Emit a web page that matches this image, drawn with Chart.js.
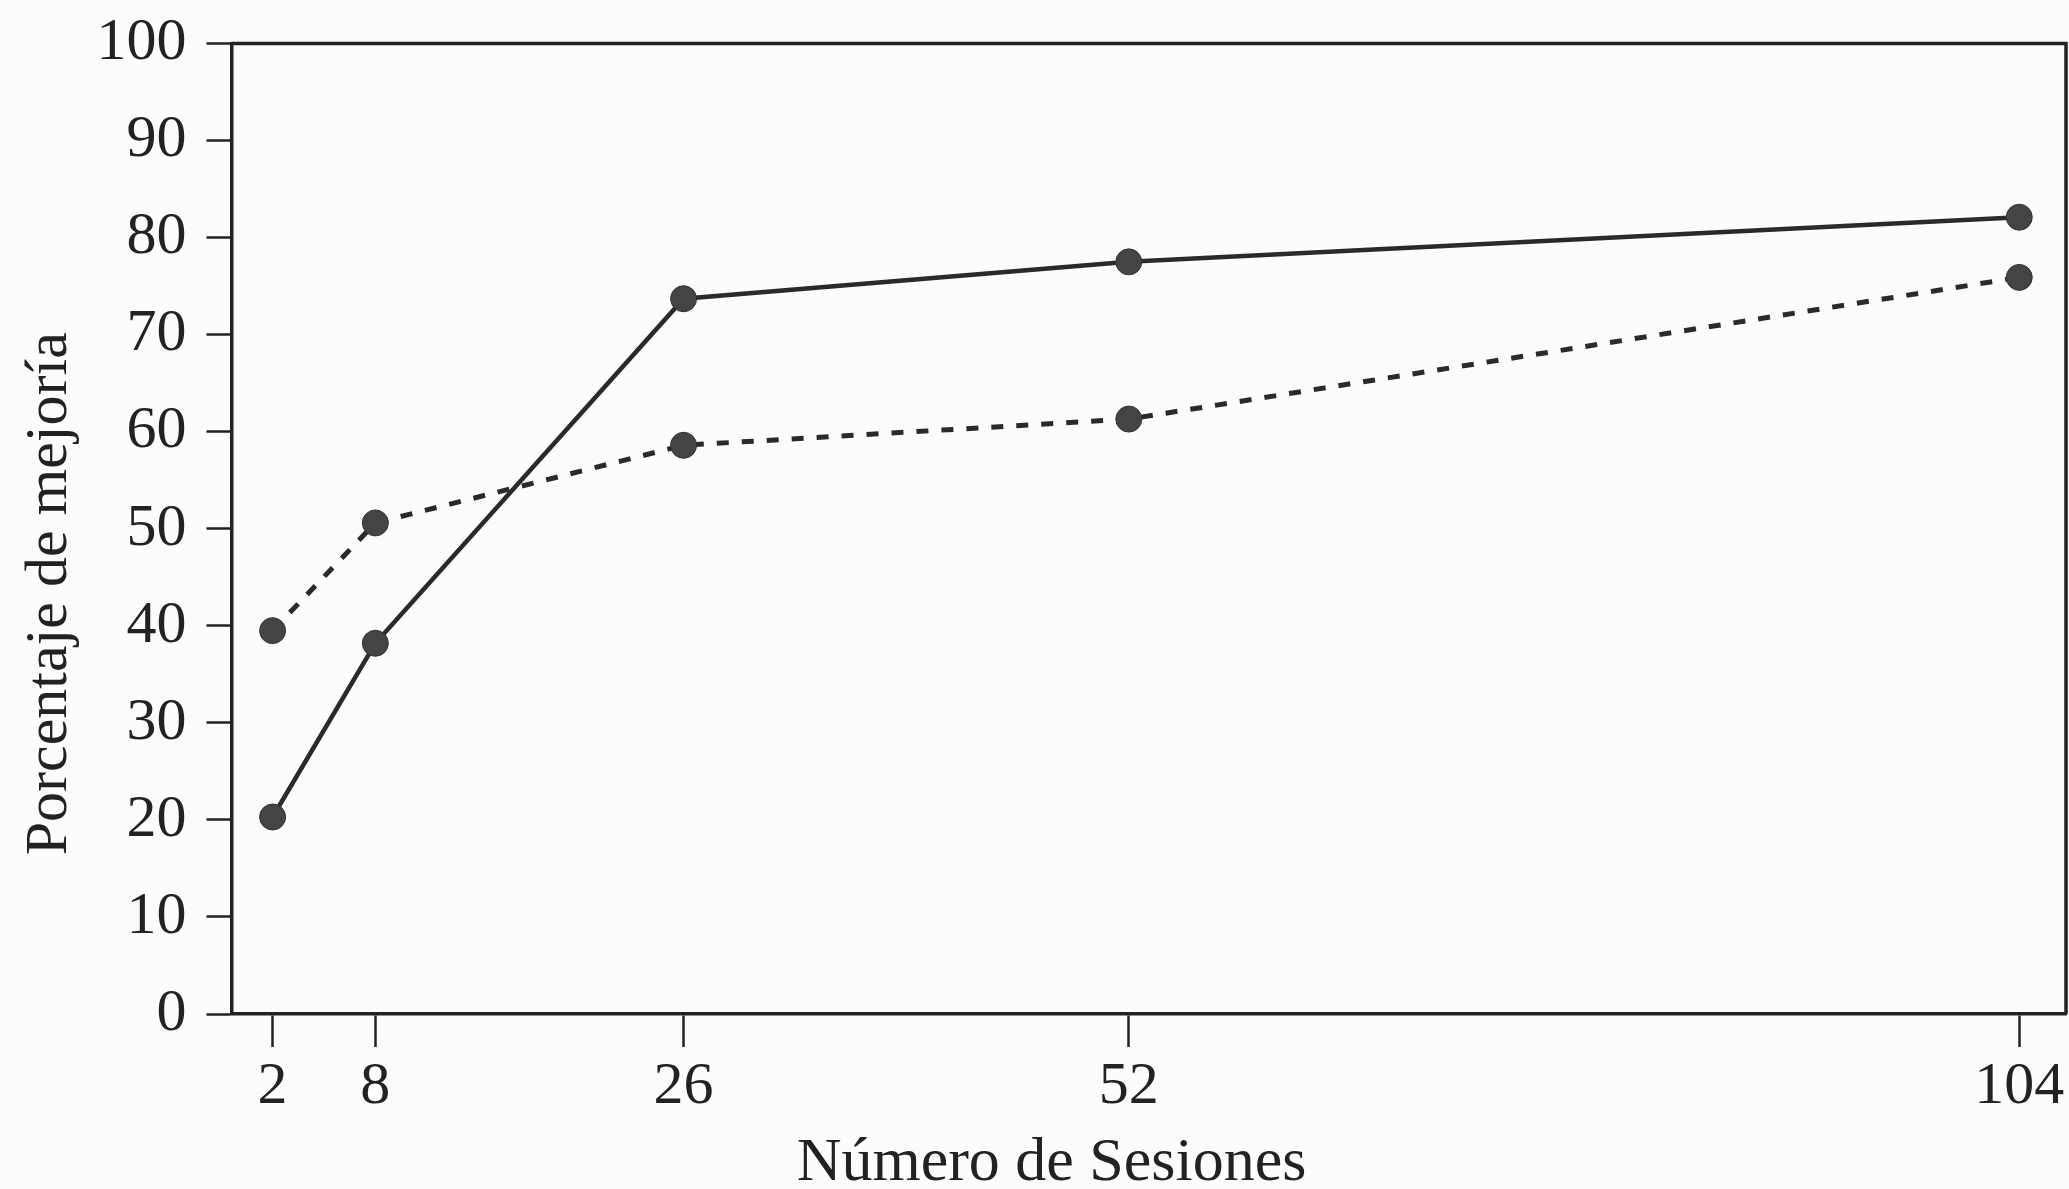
<!DOCTYPE html>
<html>
<head>
<meta charset="utf-8">
<script src="https://cdn.jsdelivr.net/npm/chart.js@4/dist/chart.umd.min.js"></script>
<style>
  html, body { margin: 0; padding: 0; background: #fcfcfc; }
  #wrap { width: 2069px; height: 1189px; position: relative; }
</style>
</head>
<body>
<div id="wrap"><canvas id="c" width="2069" height="1189"></canvas></div>
<script>
// ---- Data ----
const sessions = [2, 8, 26, 52, 104];
const solidSeries = [20.3, 38.2, 73.7, 77.5, 82.1];
const dashedSeries = [39.5, 50.6, 58.6, 61.3, 75.9];
const xTickValues = [2, 8, 26, 52, 104];
const yTickValues = [0, 10, 20, 30, 40, 50, 60, 70, 80, 90, 100];
const xTitle = 'Número de Sesiones';
const yTitle = 'Porcentaje de mejoría';

const FONT = "'Liberation Serif', 'DejaVu Serif', serif";
const INK = '#222222';

const toPoints = (ys) => sessions.map((x, i) => ({ x: x, y: ys[i] }));

const framePlugin = {
  id: 'frame',
  afterDraw(chart) {
    const { ctx, chartArea: a } = chart;
    ctx.save();
    ctx.strokeStyle = INK;
    ctx.lineWidth = 3.5;
    ctx.beginPath();
    ctx.moveTo(a.left, a.top);
    ctx.lineTo(a.right, a.top);
    ctx.lineTo(a.right, a.bottom);
    ctx.stroke();
    // axis titles
    ctx.fillStyle = INK;
    ctx.font = "62px " + FONT;
    ctx.textAlign = 'center';
    ctx.textBaseline = 'alphabetic';
    ctx.fillText(xTitle, a.left + 0.447 * (a.right - a.left), 1180);
    ctx.translate(66, a.top + 0.567 * (a.bottom - a.top));
    ctx.rotate(-Math.PI / 2);
    ctx.font = "60px " + FONT;
    ctx.fillText(yTitle, 0, 0);
    ctx.restore();
  }
};

new Chart(document.getElementById('c'), {
  type: 'line',
  data: {
    datasets: [
      {
        label: 'A',
        data: toPoints(solidSeries),
        borderColor: '#2a2a2a',
        borderWidth: 4.5,
        pointRadius: 13,
        pointBackgroundColor: '#444444',
        pointBorderColor: '#333333',
        pointBorderWidth: 1,
        tension: 0,
        fill: false
      },
      {
        label: 'B',
        data: toPoints(dashedSeries),
        borderColor: '#2a2a2a',
        borderWidth: 5,
        borderDash: [12, 13],
        pointRadius: 13,
        pointBackgroundColor: '#444444',
        pointBorderColor: '#333333',
        pointBorderWidth: 1,
        tension: 0,
        fill: false
      }
    ]
  },
  plugins: [framePlugin],
  options: {
    responsive: false,
    animation: false,
    events: [],
    layout: { autoPadding: false, padding: { top: 43.5, right: 3, left: 0, bottom: 0 } },
    plugins: { legend: { display: false }, tooltip: { enabled: false }, title: { display: false } },
    scales: {
      x: {
        type: 'linear',
        min: -0.4,
        max: 106.73,
        afterBuildTicks: (s) => { s.ticks = xTickValues.map(v => ({ value: v })); },
        afterFit: (s) => { s.height = 175; s.paddingLeft = 0; s.paddingRight = 0; },
        grid: { drawOnChartArea: false, drawTicks: true, tickLength: 33, tickColor: INK, tickWidth: 2.5 },
        border: { display: true, color: INK, width: 3.5 },
        ticks: { color: INK, font: { family: FONT, size: 60 }, padding: 4, maxRotation: 0, autoSkip: false,
                 callback: (v) => String(v) }
      },
      y: {
        type: 'linear',
        min: 0,
        max: 100,
        afterBuildTicks: (s) => { s.ticks = yTickValues.map(v => ({ value: v })); },
        afterFit: (s) => { s.width = 231.5; s.paddingTop = 0; s.paddingBottom = 0; },
        grid: { drawOnChartArea: false, drawTicks: true, tickLength: 25, tickColor: INK, tickWidth: 2.5 },
        border: { display: true, color: INK, width: 3.5 },
        ticks: { color: INK, font: { family: FONT, size: 60 }, padding: 20, autoSkip: false,
                 callback: (v) => String(v) }
      }
    }
  }
});
</script>
</body>
</html>
